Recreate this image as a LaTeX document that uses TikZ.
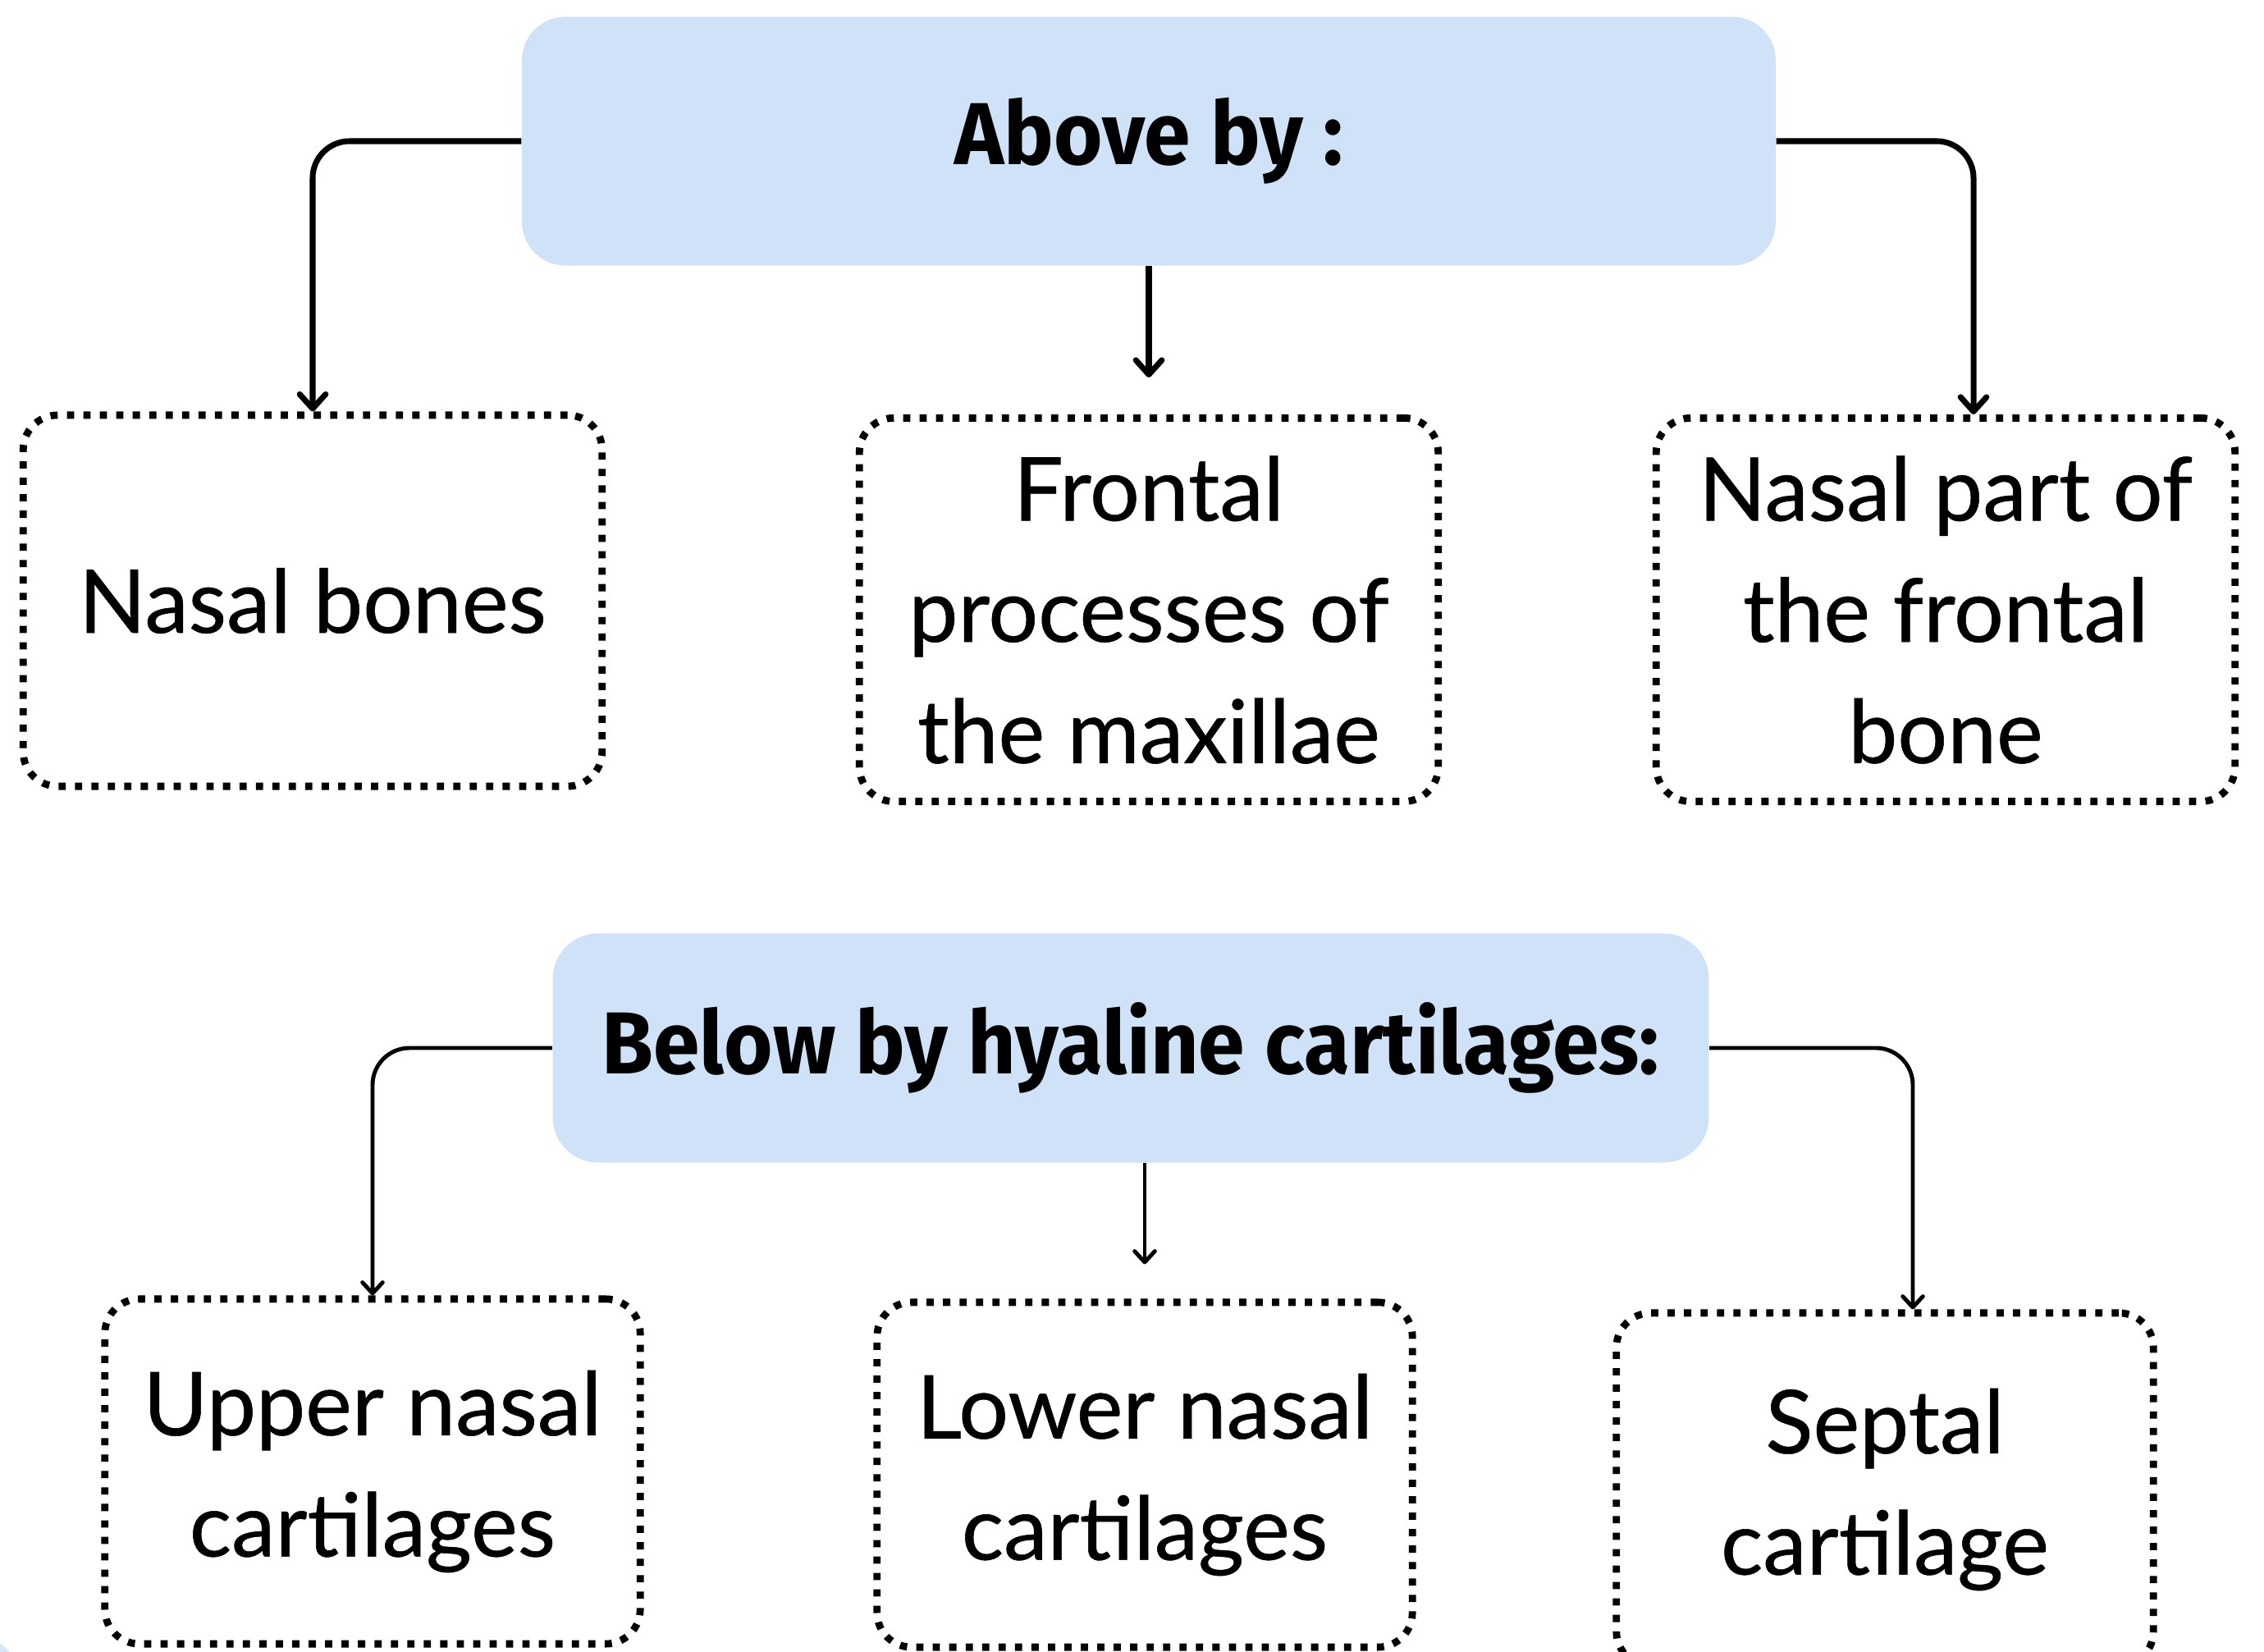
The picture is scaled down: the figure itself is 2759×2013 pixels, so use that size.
\documentclass[tikz,border=0pt]{standalone}
\usepackage{fontspec}
\setmainfont{Lato}[FakeBold=0.5]
\newfontfamily\headfont[FakeStretch=0.95]{Fira Sans}
\usetikzlibrary{arrows.meta}
\definecolor{headblue}{RGB}{207,226,248}
\definecolor{decoblue}{RGB}{214,230,244}

\begin{document}
\begin{tikzpicture}[x=0.01cm,y=-0.01cm,
  head node/.style={fill=headblue,rounded corners=0.53cm,font=\headfont\bfseries\fontsize{30.5}{40}\selectfont},
  part node/.style={draw,line width=2.5pt,dash pattern=on 2.5pt off 3.2pt,rounded corners=0.42cm,
    align=center,inner sep=0pt,font=\fontsize{30.5}{42}\selectfont},
  elbow/.style={rounded corners=0.45cm,to path={-| (\tikztotarget)}}]

  \useasboundingbox (0,0) rectangle (2759,2013);
  \fill[decoblue] (-40,2060) circle (0.7cm);

  \node[head node,minimum width=15.27cm,minimum height=3.03cm] (0) at (1400,172) {\raisebox{-0.07cm}{Above by :}};
  \node[part node,minimum width=7.05cm,minimum height=4.52cm] (1) at (381,732) {Nasal bones};
  \node[part node,minimum width=7.05cm,minimum height=4.67cm] (2) at (1400,743) {Frontal\\processes of\\the maxillae};
  \node[part node,minimum width=7.05cm,minimum height=4.67cm] (3) at (2371,743) {Nasal part of\\the frontal\\bone};

  \node[head node,rounded corners=0.55cm,minimum width=14.08cm,minimum height=2.79cm] (4) at (1378,1277) {\raisebox{-0.06cm}{Below by hyaline cartilages:}};
  \node[part node,minimum width=6.52cm,minimum height=4.20cm] (5) at (454,1793) {Upper nasal\\cartilages};
  \node[part node,minimum width=6.52cm,minimum height=4.20cm] (6) at (1395,1797) {Lower nasal\\cartilages};
  \node[part node,minimum width=6.54cm,minimum height=4.30cm] (7) at (2297,1815) {Septal\\cartilage};

  \path[line width=2pt,-{Straight Barb[length=5pt,width=9pt,round]}]
     (0.west) edge[elbow] (1.north)
     (0.south -| 2.north) edge[shorten >=0.45cm] (2.north)
     (0.east) edge[elbow] ([xshift=0.34cm]3.north);

  \path[line width=1.4pt,-{Straight Barb[length=3.8pt,width=7pt,round]}]
     (4.west) edge[elbow] (5.north)
     (4.south -| 6.north) edge[shorten >=0.42cm] (6.north)
     (4.east) edge[elbow] ([xshift=0.34cm]7.north);
\end{tikzpicture}
\end{document}
